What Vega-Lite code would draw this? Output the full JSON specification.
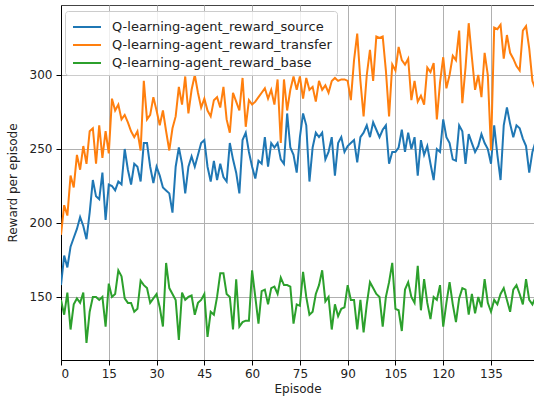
{
  "$schema": "https://vega.github.io/schema/vega-lite/v6.json",
  "width": 473,
  "height": 355,
  "autosize": {"type": "none"},
  "padding": {"left": 61, "top": 5, "right": 0, "bottom": 44},
  "background": "white",
  "config": {
    "font": "DejaVu Sans",
    "view": {"stroke": "#444", "strokeWidth": 1},
    "axis": {
      "labelFont": "DejaVu Sans", "titleFont": "DejaVu Sans",
      "labelFontSize": 12, "titleFontSize": 12,
      "labelColor": "#222", "titleColor": "#222",
      "titleFontWeight": "normal",
      "gridColor": "#b0b0b0", "gridWidth": 1, "gridOpacity": 1,
      "domainColor": "#000", "domainWidth": 1,
      "tickColor": "#000", "tickSize": 5, "tickWidth": 1
    }
  },
  "data": {
    "values": [
{"Episode":0,"Q-learning-agent_reward_source":158,"Q-learning-agent_reward_transfer":192,"Q-learning-agent_reward_base":148},
{"Episode":1,"Q-learning-agent_reward_source":178,"Q-learning-agent_reward_transfer":212,"Q-learning-agent_reward_base":138},
{"Episode":2,"Q-learning-agent_reward_source":170,"Q-learning-agent_reward_transfer":205,"Q-learning-agent_reward_base":153},
{"Episode":3,"Q-learning-agent_reward_source":184,"Q-learning-agent_reward_transfer":232,"Q-learning-agent_reward_base":128},
{"Episode":4,"Q-learning-agent_reward_source":190,"Q-learning-agent_reward_transfer":224,"Q-learning-agent_reward_base":145},
{"Episode":5,"Q-learning-agent_reward_source":196,"Q-learning-agent_reward_transfer":246,"Q-learning-agent_reward_base":149},
{"Episode":6,"Q-learning-agent_reward_source":204,"Q-learning-agent_reward_transfer":236,"Q-learning-agent_reward_base":146},
{"Episode":7,"Q-learning-agent_reward_source":198,"Q-learning-agent_reward_transfer":252,"Q-learning-agent_reward_base":153},
{"Episode":8,"Q-learning-agent_reward_source":189,"Q-learning-agent_reward_transfer":240,"Q-learning-agent_reward_base":119},
{"Episode":9,"Q-learning-agent_reward_source":207,"Q-learning-agent_reward_transfer":262,"Q-learning-agent_reward_base":140},
{"Episode":10,"Q-learning-agent_reward_source":229,"Q-learning-agent_reward_transfer":264,"Q-learning-agent_reward_base":150},
{"Episode":11,"Q-learning-agent_reward_source":218,"Q-learning-agent_reward_transfer":240,"Q-learning-agent_reward_base":150},
{"Episode":12,"Q-learning-agent_reward_source":216,"Q-learning-agent_reward_transfer":266,"Q-learning-agent_reward_base":148},
{"Episode":13,"Q-learning-agent_reward_source":234,"Q-learning-agent_reward_transfer":244,"Q-learning-agent_reward_base":150},
{"Episode":14,"Q-learning-agent_reward_source":202,"Q-learning-agent_reward_transfer":262,"Q-learning-agent_reward_base":130},
{"Episode":15,"Q-learning-agent_reward_source":226,"Q-learning-agent_reward_transfer":247,"Q-learning-agent_reward_base":159},
{"Episode":16,"Q-learning-agent_reward_source":225,"Q-learning-agent_reward_transfer":284,"Q-learning-agent_reward_base":150},
{"Episode":17,"Q-learning-agent_reward_source":222,"Q-learning-agent_reward_transfer":276,"Q-learning-agent_reward_base":152},
{"Episode":18,"Q-learning-agent_reward_source":228,"Q-learning-agent_reward_transfer":280,"Q-learning-agent_reward_base":168},
{"Episode":19,"Q-learning-agent_reward_source":226,"Q-learning-agent_reward_transfer":270,"Q-learning-agent_reward_base":164},
{"Episode":20,"Q-learning-agent_reward_source":250,"Q-learning-agent_reward_transfer":273,"Q-learning-agent_reward_base":149},
{"Episode":21,"Q-learning-agent_reward_source":236,"Q-learning-agent_reward_transfer":268,"Q-learning-agent_reward_base":146},
{"Episode":22,"Q-learning-agent_reward_source":226,"Q-learning-agent_reward_transfer":262,"Q-learning-agent_reward_base":146},
{"Episode":23,"Q-learning-agent_reward_source":240,"Q-learning-agent_reward_transfer":258,"Q-learning-agent_reward_base":140},
{"Episode":24,"Q-learning-agent_reward_source":238,"Q-learning-agent_reward_transfer":262,"Q-learning-agent_reward_base":142},
{"Episode":25,"Q-learning-agent_reward_source":228,"Q-learning-agent_reward_transfer":249,"Q-learning-agent_reward_base":161},
{"Episode":26,"Q-learning-agent_reward_source":254,"Q-learning-agent_reward_transfer":296,"Q-learning-agent_reward_base":158},
{"Episode":27,"Q-learning-agent_reward_source":254,"Q-learning-agent_reward_transfer":270,"Q-learning-agent_reward_base":156},
{"Episode":28,"Q-learning-agent_reward_source":238,"Q-learning-agent_reward_transfer":273,"Q-learning-agent_reward_base":146},
{"Episode":29,"Q-learning-agent_reward_source":227,"Q-learning-agent_reward_transfer":285,"Q-learning-agent_reward_base":149},
{"Episode":30,"Q-learning-agent_reward_source":238,"Q-learning-agent_reward_transfer":276,"Q-learning-agent_reward_base":152},
{"Episode":31,"Q-learning-agent_reward_source":232,"Q-learning-agent_reward_transfer":266,"Q-learning-agent_reward_base":143},
{"Episode":32,"Q-learning-agent_reward_source":224,"Q-learning-agent_reward_transfer":276,"Q-learning-agent_reward_base":130},
{"Episode":33,"Q-learning-agent_reward_source":222,"Q-learning-agent_reward_transfer":262,"Q-learning-agent_reward_base":173},
{"Episode":34,"Q-learning-agent_reward_source":220,"Q-learning-agent_reward_transfer":249,"Q-learning-agent_reward_base":156},
{"Episode":35,"Q-learning-agent_reward_source":207,"Q-learning-agent_reward_transfer":264,"Q-learning-agent_reward_base":152},
{"Episode":36,"Q-learning-agent_reward_source":238,"Q-learning-agent_reward_transfer":272,"Q-learning-agent_reward_base":148},
{"Episode":37,"Q-learning-agent_reward_source":251,"Q-learning-agent_reward_transfer":292,"Q-learning-agent_reward_base":121},
{"Episode":38,"Q-learning-agent_reward_source":240,"Q-learning-agent_reward_transfer":280,"Q-learning-agent_reward_base":153},
{"Episode":39,"Q-learning-agent_reward_source":220,"Q-learning-agent_reward_transfer":299,"Q-learning-agent_reward_base":148},
{"Episode":40,"Q-learning-agent_reward_source":238,"Q-learning-agent_reward_transfer":274,"Q-learning-agent_reward_base":150},
{"Episode":41,"Q-learning-agent_reward_source":245,"Q-learning-agent_reward_transfer":290,"Q-learning-agent_reward_base":151},
{"Episode":42,"Q-learning-agent_reward_source":238,"Q-learning-agent_reward_transfer":300,"Q-learning-agent_reward_base":138},
{"Episode":43,"Q-learning-agent_reward_source":246,"Q-learning-agent_reward_transfer":288,"Q-learning-agent_reward_base":146},
{"Episode":44,"Q-learning-agent_reward_source":254,"Q-learning-agent_reward_transfer":278,"Q-learning-agent_reward_base":148},
{"Episode":45,"Q-learning-agent_reward_source":256,"Q-learning-agent_reward_transfer":284,"Q-learning-agent_reward_base":152},
{"Episode":46,"Q-learning-agent_reward_source":238,"Q-learning-agent_reward_transfer":276,"Q-learning-agent_reward_base":123},
{"Episode":47,"Q-learning-agent_reward_source":228,"Q-learning-agent_reward_transfer":272,"Q-learning-agent_reward_base":140},
{"Episode":48,"Q-learning-agent_reward_source":242,"Q-learning-agent_reward_transfer":283,"Q-learning-agent_reward_base":138},
{"Episode":49,"Q-learning-agent_reward_source":229,"Q-learning-agent_reward_transfer":285,"Q-learning-agent_reward_base":150},
{"Episode":50,"Q-learning-agent_reward_source":240,"Q-learning-agent_reward_transfer":278,"Q-learning-agent_reward_base":166},
{"Episode":51,"Q-learning-agent_reward_source":231,"Q-learning-agent_reward_transfer":292,"Q-learning-agent_reward_base":166},
{"Episode":52,"Q-learning-agent_reward_source":228,"Q-learning-agent_reward_transfer":270,"Q-learning-agent_reward_base":152},
{"Episode":53,"Q-learning-agent_reward_source":254,"Q-learning-agent_reward_transfer":261,"Q-learning-agent_reward_base":150},
{"Episode":54,"Q-learning-agent_reward_source":243,"Q-learning-agent_reward_transfer":288,"Q-learning-agent_reward_base":128},
{"Episode":55,"Q-learning-agent_reward_source":234,"Q-learning-agent_reward_transfer":282,"Q-learning-agent_reward_base":162},
{"Episode":56,"Q-learning-agent_reward_source":220,"Q-learning-agent_reward_transfer":276,"Q-learning-agent_reward_base":130},
{"Episode":57,"Q-learning-agent_reward_source":256,"Q-learning-agent_reward_transfer":298,"Q-learning-agent_reward_base":133},
{"Episode":58,"Q-learning-agent_reward_source":261,"Q-learning-agent_reward_transfer":265,"Q-learning-agent_reward_base":134},
{"Episode":59,"Q-learning-agent_reward_source":248,"Q-learning-agent_reward_transfer":283,"Q-learning-agent_reward_base":134},
{"Episode":60,"Q-learning-agent_reward_source":238,"Q-learning-agent_reward_transfer":280,"Q-learning-agent_reward_base":168},
{"Episode":61,"Q-learning-agent_reward_source":230,"Q-learning-agent_reward_transfer":282,"Q-learning-agent_reward_base":150},
{"Episode":62,"Q-learning-agent_reward_source":242,"Q-learning-agent_reward_transfer":285,"Q-learning-agent_reward_base":132},
{"Episode":63,"Q-learning-agent_reward_source":240,"Q-learning-agent_reward_transfer":288,"Q-learning-agent_reward_base":154},
{"Episode":64,"Q-learning-agent_reward_source":258,"Q-learning-agent_reward_transfer":291,"Q-learning-agent_reward_base":155},
{"Episode":65,"Q-learning-agent_reward_source":238,"Q-learning-agent_reward_transfer":284,"Q-learning-agent_reward_base":145},
{"Episode":66,"Q-learning-agent_reward_source":254,"Q-learning-agent_reward_transfer":290,"Q-learning-agent_reward_base":156},
{"Episode":67,"Q-learning-agent_reward_source":251,"Q-learning-agent_reward_transfer":280,"Q-learning-agent_reward_base":157},
{"Episode":68,"Q-learning-agent_reward_source":254,"Q-learning-agent_reward_transfer":297,"Q-learning-agent_reward_base":152},
{"Episode":69,"Q-learning-agent_reward_source":243,"Q-learning-agent_reward_transfer":254,"Q-learning-agent_reward_base":163},
{"Episode":70,"Q-learning-agent_reward_source":240,"Q-learning-agent_reward_transfer":297,"Q-learning-agent_reward_base":158},
{"Episode":71,"Q-learning-agent_reward_source":274,"Q-learning-agent_reward_transfer":276,"Q-learning-agent_reward_base":158},
{"Episode":72,"Q-learning-agent_reward_source":251,"Q-learning-agent_reward_transfer":290,"Q-learning-agent_reward_base":157},
{"Episode":73,"Q-learning-agent_reward_source":246,"Q-learning-agent_reward_transfer":299,"Q-learning-agent_reward_base":132},
{"Episode":74,"Q-learning-agent_reward_source":234,"Q-learning-agent_reward_transfer":290,"Q-learning-agent_reward_base":145},
{"Episode":75,"Q-learning-agent_reward_source":258,"Q-learning-agent_reward_transfer":299,"Q-learning-agent_reward_base":144},
{"Episode":76,"Q-learning-agent_reward_source":274,"Q-learning-agent_reward_transfer":284,"Q-learning-agent_reward_base":167},
{"Episode":77,"Q-learning-agent_reward_source":266,"Q-learning-agent_reward_transfer":298,"Q-learning-agent_reward_base":150},
{"Episode":78,"Q-learning-agent_reward_source":228,"Q-learning-agent_reward_transfer":290,"Q-learning-agent_reward_base":138},
{"Episode":79,"Q-learning-agent_reward_source":251,"Q-learning-agent_reward_transfer":292,"Q-learning-agent_reward_base":140},
{"Episode":80,"Q-learning-agent_reward_source":261,"Q-learning-agent_reward_transfer":282,"Q-learning-agent_reward_base":152},
{"Episode":81,"Q-learning-agent_reward_source":258,"Q-learning-agent_reward_transfer":296,"Q-learning-agent_reward_base":158},
{"Episode":82,"Q-learning-agent_reward_source":261,"Q-learning-agent_reward_transfer":290,"Q-learning-agent_reward_base":168},
{"Episode":83,"Q-learning-agent_reward_source":243,"Q-learning-agent_reward_transfer":293,"Q-learning-agent_reward_base":147},
{"Episode":84,"Q-learning-agent_reward_source":248,"Q-learning-agent_reward_transfer":288,"Q-learning-agent_reward_base":150},
{"Episode":85,"Q-learning-agent_reward_source":258,"Q-learning-agent_reward_transfer":296,"Q-learning-agent_reward_base":128},
{"Episode":86,"Q-learning-agent_reward_source":232,"Q-learning-agent_reward_transfer":298,"Q-learning-agent_reward_base":145},
{"Episode":87,"Q-learning-agent_reward_source":254,"Q-learning-agent_reward_transfer":296,"Q-learning-agent_reward_base":137},
{"Episode":88,"Q-learning-agent_reward_source":258,"Q-learning-agent_reward_transfer":297,"Q-learning-agent_reward_base":142},
{"Episode":89,"Q-learning-agent_reward_source":248,"Q-learning-agent_reward_transfer":297,"Q-learning-agent_reward_base":143},
{"Episode":90,"Q-learning-agent_reward_source":252,"Q-learning-agent_reward_transfer":296,"Q-learning-agent_reward_base":158},
{"Episode":91,"Q-learning-agent_reward_source":254,"Q-learning-agent_reward_transfer":283,"Q-learning-agent_reward_base":148},
{"Episode":92,"Q-learning-agent_reward_source":256,"Q-learning-agent_reward_transfer":310,"Q-learning-agent_reward_base":148},
{"Episode":93,"Q-learning-agent_reward_source":241,"Q-learning-agent_reward_transfer":328,"Q-learning-agent_reward_base":128},
{"Episode":94,"Q-learning-agent_reward_source":258,"Q-learning-agent_reward_transfer":296,"Q-learning-agent_reward_base":148},
{"Episode":95,"Q-learning-agent_reward_source":261,"Q-learning-agent_reward_transfer":272,"Q-learning-agent_reward_base":126},
{"Episode":96,"Q-learning-agent_reward_source":266,"Q-learning-agent_reward_transfer":300,"Q-learning-agent_reward_base":145},
{"Episode":97,"Q-learning-agent_reward_source":258,"Q-learning-agent_reward_transfer":317,"Q-learning-agent_reward_base":160},
{"Episode":98,"Q-learning-agent_reward_source":268,"Q-learning-agent_reward_transfer":296,"Q-learning-agent_reward_base":156},
{"Episode":99,"Q-learning-agent_reward_source":263,"Q-learning-agent_reward_transfer":326,"Q-learning-agent_reward_base":152},
{"Episode":100,"Q-learning-agent_reward_source":258,"Q-learning-agent_reward_transfer":325,"Q-learning-agent_reward_base":150},
{"Episode":101,"Q-learning-agent_reward_source":263,"Q-learning-agent_reward_transfer":326,"Q-learning-agent_reward_base":130},
{"Episode":102,"Q-learning-agent_reward_source":266,"Q-learning-agent_reward_transfer":303,"Q-learning-agent_reward_base":150},
{"Episode":103,"Q-learning-agent_reward_source":240,"Q-learning-agent_reward_transfer":272,"Q-learning-agent_reward_base":160},
{"Episode":104,"Q-learning-agent_reward_source":248,"Q-learning-agent_reward_transfer":307,"Q-learning-agent_reward_base":173},
{"Episode":105,"Q-learning-agent_reward_source":248,"Q-learning-agent_reward_transfer":303,"Q-learning-agent_reward_base":142},
{"Episode":106,"Q-learning-agent_reward_source":251,"Q-learning-agent_reward_transfer":319,"Q-learning-agent_reward_base":141},
{"Episode":107,"Q-learning-agent_reward_source":263,"Q-learning-agent_reward_transfer":310,"Q-learning-agent_reward_base":127},
{"Episode":108,"Q-learning-agent_reward_source":248,"Q-learning-agent_reward_transfer":307,"Q-learning-agent_reward_base":155},
{"Episode":109,"Q-learning-agent_reward_source":261,"Q-learning-agent_reward_transfer":311,"Q-learning-agent_reward_base":160},
{"Episode":110,"Q-learning-agent_reward_source":250,"Q-learning-agent_reward_transfer":283,"Q-learning-agent_reward_base":150},
{"Episode":111,"Q-learning-agent_reward_source":258,"Q-learning-agent_reward_transfer":296,"Q-learning-agent_reward_base":146},
{"Episode":112,"Q-learning-agent_reward_source":232,"Q-learning-agent_reward_transfer":282,"Q-learning-agent_reward_base":171},
{"Episode":113,"Q-learning-agent_reward_source":256,"Q-learning-agent_reward_transfer":286,"Q-learning-agent_reward_base":141},
{"Episode":114,"Q-learning-agent_reward_source":246,"Q-learning-agent_reward_transfer":280,"Q-learning-agent_reward_base":162},
{"Episode":115,"Q-learning-agent_reward_source":252,"Q-learning-agent_reward_transfer":305,"Q-learning-agent_reward_base":146},
{"Episode":116,"Q-learning-agent_reward_source":240,"Q-learning-agent_reward_transfer":302,"Q-learning-agent_reward_base":135},
{"Episode":117,"Q-learning-agent_reward_source":229,"Q-learning-agent_reward_transfer":308,"Q-learning-agent_reward_base":150},
{"Episode":118,"Q-learning-agent_reward_source":250,"Q-learning-agent_reward_transfer":270,"Q-learning-agent_reward_base":148},
{"Episode":119,"Q-learning-agent_reward_source":248,"Q-learning-agent_reward_transfer":295,"Q-learning-agent_reward_base":158},
{"Episode":120,"Q-learning-agent_reward_source":270,"Q-learning-agent_reward_transfer":312,"Q-learning-agent_reward_base":130},
{"Episode":121,"Q-learning-agent_reward_source":258,"Q-learning-agent_reward_transfer":291,"Q-learning-agent_reward_base":146},
{"Episode":122,"Q-learning-agent_reward_source":254,"Q-learning-agent_reward_transfer":300,"Q-learning-agent_reward_base":160},
{"Episode":123,"Q-learning-agent_reward_source":243,"Q-learning-agent_reward_transfer":313,"Q-learning-agent_reward_base":145},
{"Episode":124,"Q-learning-agent_reward_source":242,"Q-learning-agent_reward_transfer":310,"Q-learning-agent_reward_base":133},
{"Episode":125,"Q-learning-agent_reward_source":266,"Q-learning-agent_reward_transfer":330,"Q-learning-agent_reward_base":149},
{"Episode":126,"Q-learning-agent_reward_source":262,"Q-learning-agent_reward_transfer":281,"Q-learning-agent_reward_base":156},
{"Episode":127,"Q-learning-agent_reward_source":240,"Q-learning-agent_reward_transfer":305,"Q-learning-agent_reward_base":155},
{"Episode":128,"Q-learning-agent_reward_source":260,"Q-learning-agent_reward_transfer":335,"Q-learning-agent_reward_base":138},
{"Episode":129,"Q-learning-agent_reward_source":254,"Q-learning-agent_reward_transfer":312,"Q-learning-agent_reward_base":152},
{"Episode":130,"Q-learning-agent_reward_source":248,"Q-learning-agent_reward_transfer":290,"Q-learning-agent_reward_base":139},
{"Episode":131,"Q-learning-agent_reward_source":252,"Q-learning-agent_reward_transfer":300,"Q-learning-agent_reward_base":150},
{"Episode":132,"Q-learning-agent_reward_source":260,"Q-learning-agent_reward_transfer":285,"Q-learning-agent_reward_base":143},
{"Episode":133,"Q-learning-agent_reward_source":254,"Q-learning-agent_reward_transfer":315,"Q-learning-agent_reward_base":162},
{"Episode":134,"Q-learning-agent_reward_source":250,"Q-learning-agent_reward_transfer":300,"Q-learning-agent_reward_base":146},
{"Episode":135,"Q-learning-agent_reward_source":240,"Q-learning-agent_reward_transfer":249,"Q-learning-agent_reward_base":140},
{"Episode":136,"Q-learning-agent_reward_source":266,"Q-learning-agent_reward_transfer":332,"Q-learning-agent_reward_base":148},
{"Episode":137,"Q-learning-agent_reward_source":246,"Q-learning-agent_reward_transfer":331,"Q-learning-agent_reward_base":145},
{"Episode":138,"Q-learning-agent_reward_source":229,"Q-learning-agent_reward_transfer":334,"Q-learning-agent_reward_base":152},
{"Episode":139,"Q-learning-agent_reward_source":266,"Q-learning-agent_reward_transfer":311,"Q-learning-agent_reward_base":156},
{"Episode":140,"Q-learning-agent_reward_source":278,"Q-learning-agent_reward_transfer":327,"Q-learning-agent_reward_base":148},
{"Episode":141,"Q-learning-agent_reward_source":267,"Q-learning-agent_reward_transfer":315,"Q-learning-agent_reward_base":140},
{"Episode":142,"Q-learning-agent_reward_source":258,"Q-learning-agent_reward_transfer":311,"Q-learning-agent_reward_base":155},
{"Episode":143,"Q-learning-agent_reward_source":266,"Q-learning-agent_reward_transfer":306,"Q-learning-agent_reward_base":158},
{"Episode":144,"Q-learning-agent_reward_source":264,"Q-learning-agent_reward_transfer":303,"Q-learning-agent_reward_base":152},
{"Episode":145,"Q-learning-agent_reward_source":257,"Q-learning-agent_reward_transfer":330,"Q-learning-agent_reward_base":145},
{"Episode":146,"Q-learning-agent_reward_source":252,"Q-learning-agent_reward_transfer":333,"Q-learning-agent_reward_base":162},
{"Episode":147,"Q-learning-agent_reward_source":234,"Q-learning-agent_reward_transfer":318,"Q-learning-agent_reward_base":148},
{"Episode":148,"Q-learning-agent_reward_source":248,"Q-learning-agent_reward_transfer":296,"Q-learning-agent_reward_base":145},
{"Episode":149,"Q-learning-agent_reward_source":255,"Q-learning-agent_reward_transfer":290,"Q-learning-agent_reward_base":150}
    ]
  },
  "transform": [
    {"fold": ["Q-learning-agent_reward_source", "Q-learning-agent_reward_transfer", "Q-learning-agent_reward_base"], "as": ["series", "reward"]}
  ],
  "mark": {"type": "line", "strokeWidth": 2, "clip": true},
  "encoding": {
    "x": {
      "field": "Episode", "type": "quantitative",
      "scale": {"domain": [0, 148.5], "nice": false, "zero": false},
      "axis": {"values": [0,15,30,45,60,75,90,105,120,135], "title": "Episode", "labelPadding": 3, "titlePadding": 4, "grid": true}
    },
    "y": {
      "field": "reward", "type": "quantitative",
      "scale": {"domain": [107.4, 347.3], "nice": false, "zero": false},
      "axis": {"values": [150, 200, 250, 300], "title": "Reward per episode", "labelPadding": 4, "titlePadding": 10, "grid": true}
    },
    "color": {
      "field": "series", "type": "nominal",
      "scale": {
        "domain": ["Q-learning-agent_reward_source", "Q-learning-agent_reward_transfer", "Q-learning-agent_reward_base"],
        "range": ["#1f77b4", "#ff7f0e", "#2ca02c"]
      },
      "legend": {
        "title": null, "orient": "none", "legendX": 4, "legendY": 6,
        "symbolType": "M-0.8,0H2", "symbolSize": 400, "symbolStrokeWidth": 2,
        "symbolFillColor": "transparent",
        "labelFontSize": 13, "labelFont": "DejaVu Sans", "labelColor": "#222",
        "labelOffset": 20, "rowPadding": 0, "padding": 5,
        "fillColor": "rgba(255,255,255,0.8)", "strokeColor": "#cccccc", "cornerRadius": 3,
        "labelLimit": 400
      }
    },
    "order": {"field": "Episode", "type": "quantitative"}
  }
}
